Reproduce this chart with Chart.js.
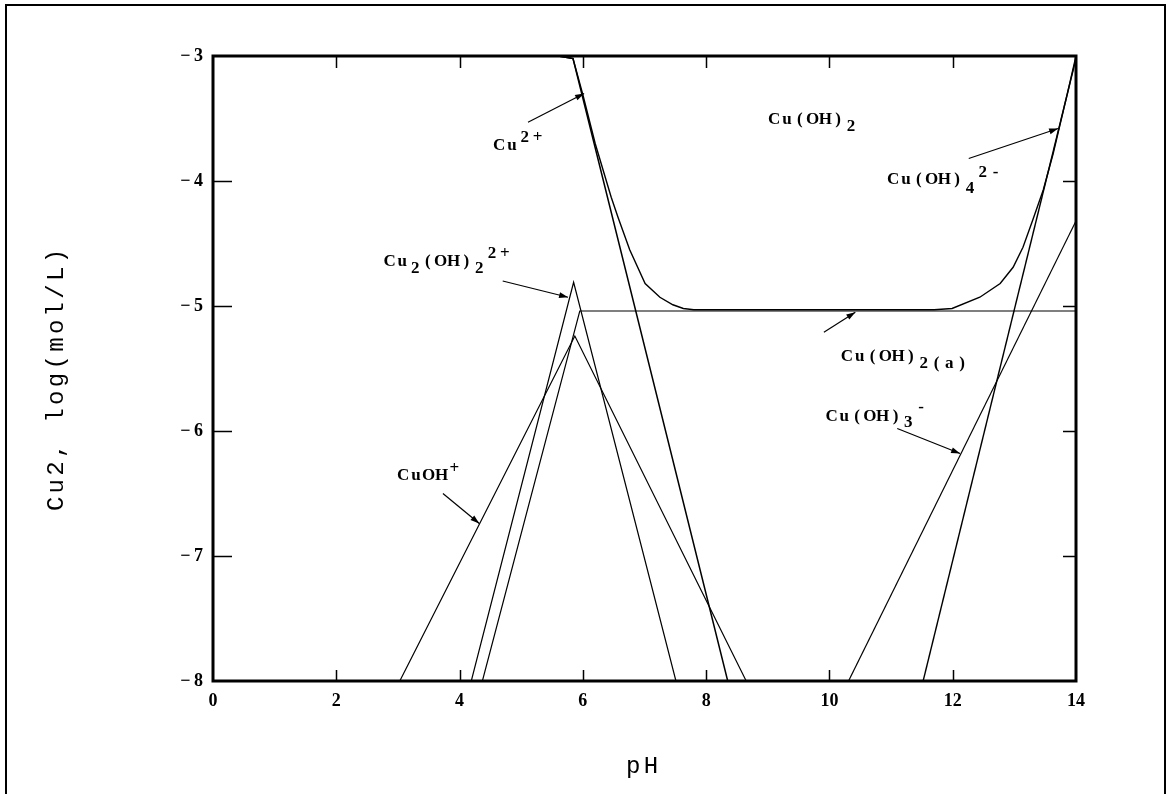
<!DOCTYPE html>
<html>
<head>
<meta charset="utf-8">
<script src="https://cdn.jsdelivr.net/npm/chart.js@4.4.1/dist/chart.umd.min.js"></script>
<style>
  html, body { margin: 0; padding: 0; background: #fff; }
</style>
</head>
<body>
<canvas id="chart" width="1172" height="794"></canvas>
<script>
// log C vs pH for copper species, points as [pH, log(mol/L)]
const cuTotal = [[0,-3],[5.6,-3],[5.84,-3.02],[6.0,-3.31],[6.2,-3.7],[6.46,-4.13],[6.57,-4.29],[6.76,-4.55],
  [7.01,-4.82],[7.25,-4.93],[7.46,-4.99],[7.63,-5.02],[7.8,-5.03],[11.7,-5.03],[11.99,-5.02],[12.44,-4.93],
  [12.77,-4.82],[12.98,-4.69],[13.14,-4.53],[13.3,-4.31],[13.47,-4.07],[13.63,-3.78],[13.74,-3.55],[13.87,-3.28],[14,-3.0]];
const cu2 = [[0,-3],[5.6,-3],[5.84,-3.02],[8.35,-8]];
const cuOH = [[3.03,-8],[5.87,-5.24],[8.65,-8]];
const cu2OH2 = [[4.19,-8],[5.85,-4.81],[7.51,-8]];
const cuOH2aq = [[4.37,-8],[5.95,-5.04],[14,-5.04]];
const cuOH3 = [[10.31,-8],[14,-4.32]];
const cuOH4 = [[11.52,-8],[14,-3.02]];

const xTicks = [0, 2, 4, 6, 8, 10, 12, 14];
const yTicks = [-8, -7, -6, -5, -4, -3];

// species labels: anchor and arrow in data units
const notes = [
  { at: [4.54, -3.75], parts: [['Cu', 0], ['2+', -8]], arrow: [[5.11, -3.53], [6.02, -3.30]] },
  { at: [2.76, -4.68], parts: [['Cu', 0], ['2', 7], ['(OH)', 0], ['2', 7], ['2+', -8]], arrow: [[4.70, -4.80], [5.76, -4.93]] },
  { at: [9.0, -3.54], parts: [['Cu(OH)', 0], ['2', 7]] },
  { at: [10.93, -4.02], parts: [['Cu(OH)', 0], ['4', 9], ['2-', -7]], arrow: [[12.26, -3.82], [13.71, -3.58]] },
  { at: [10.18, -5.44], parts: [['Cu(OH)', 0], ['2(a)', 7]], arrow: [[9.91, -5.21], [10.42, -5.05]] },
  { at: [2.98, -6.39], parts: [['CuOH', 0], ['+', -7]], arrow: [[3.73, -6.50], [4.32, -6.74]] },
  { at: [9.93, -5.92], parts: [['Cu(OH)', 0], ['3', 6], ['-', -9]], arrow: [[11.10, -5.98], [12.12, -6.18]] }
];

const toXY = pts => pts.map(([x, y]) => ({ x, y }));
const line = (data, width) => ({
  data: toXY(data), showLine: true, borderColor: '#000', borderWidth: width,
  pointRadius: 0, tension: 0, fill: false
});

function spaced(ctx, text, x, y, pitch) {
  ctx.textAlign = 'center';
  for (let i = 0; i < text.length; i++) ctx.fillText(text[i], x + i * pitch + pitch / 2, y);
  return x + text.length * pitch;
}

const decor = {
  id: 'decor',
  afterDatasetsDraw(chart) {
    const { ctx, chartArea: a, scales: { x, y } } = chart;
    ctx.save();
    ctx.strokeStyle = '#000';
    ctx.fillStyle = '#000';

    // plot frame
    ctx.lineWidth = 3;
    ctx.strokeRect(a.left, a.top, a.right - a.left, a.bottom - a.top);

    // inward tick marks
    ctx.lineWidth = 1.5;
    ctx.beginPath();
    x.ticks.forEach(t => {
      if (t.value <= x.min || t.value >= x.max) return;
      const px = Math.round(x.getPixelForValue(t.value)) + 0.5;
      ctx.moveTo(px, a.top); ctx.lineTo(px, a.top + 12);
      ctx.moveTo(px, a.bottom); ctx.lineTo(px, a.bottom - 11);
    });
    y.ticks.forEach(t => {
      if (t.value <= y.min || t.value >= y.max) return;
      const py = Math.round(y.getPixelForValue(t.value)) + 0.5;
      ctx.moveTo(a.left, py); ctx.lineTo(a.left + 19, py);
      ctx.moveTo(a.right, py); ctx.lineTo(a.right - 13, py);
    });
    ctx.stroke();

    // species labels and arrows
    ctx.font = 'bold 17px "Liberation Serif"';
    ctx.textBaseline = 'alphabetic';
    notes.forEach(n => {
      let cx = x.getPixelForValue(n.at[0]);
      const cy = y.getPixelForValue(n.at[1]);
      n.parts.forEach(([txt, dy]) => { cx = spaced(ctx, txt, cx, cy + dy, 12.8); });
      if (n.arrow) {
        const x1 = x.getPixelForValue(n.arrow[0][0]), y1 = y.getPixelForValue(n.arrow[0][1]);
        const x2 = x.getPixelForValue(n.arrow[1][0]), y2 = y.getPixelForValue(n.arrow[1][1]);
        const ang = Math.atan2(y2 - y1, x2 - x1);
        ctx.lineWidth = 1.2;
        ctx.beginPath(); ctx.moveTo(x1, y1); ctx.lineTo(x2, y2); ctx.stroke();
        ctx.beginPath();
        ctx.moveTo(x2, y2);
        ctx.lineTo(x2 - 9 * Math.cos(ang) + 3 * Math.sin(ang), y2 - 9 * Math.sin(ang) - 3 * Math.cos(ang));
        ctx.lineTo(x2 - 9 * Math.cos(ang) - 3 * Math.sin(ang), y2 - 9 * Math.sin(ang) + 3 * Math.cos(ang));
        ctx.closePath(); ctx.fill();
      }
    });

    // axis titles
    ctx.font = '24px "Liberation Mono"';
    const yTitle = 'Cu2, log(mol/L)';
    ctx.save();
    ctx.translate(63, 380);
    ctx.rotate(-Math.PI / 2);
    spaced(ctx, yTitle, -yTitle.length * 17.7 / 2, 0, 17.7);
    ctx.restore();
    spaced(ctx, 'pH', 642 - 17.7, 773, 17.7);

    // outer box
    ctx.lineWidth = 2;
    ctx.strokeRect(6, 5, 1159, 820);
    ctx.restore();
  }
};

new Chart(document.getElementById('chart'), {
  type: 'scatter',
  data: {
    datasets: [
      line(cuTotal, 1.4),
      line(cu2, 1.5),
      line(cuOH, 1.2),
      line(cu2OH2, 1.2),
      line(cuOH2aq, 1.2),
      line(cuOH3, 1.2),
      line(cuOH4, 1.4)
    ]
  },
  options: {
    responsive: false,
    animation: false,
    devicePixelRatio: 1,
    layout: { padding: { left: 0, top: 56, right: 96, bottom: 0 } },
    plugins: { legend: { display: false }, tooltip: { enabled: false } },
    scales: {
      x: {
        type: 'linear', min: 0, max: 14,
        afterBuildTicks: s => { s.ticks = xTicks.map(v => ({ value: v })); },
        afterFit: s => { s.height = 113; },
        grid: { display: false, drawTicks: false },
        border: { display: false },
        ticks: {
          autoSkip: false, maxRotation: 0, padding: 10, color: '#000',
          font: { family: 'Liberation Serif', size: 18, weight: 'bold' }
        }
      },
      y: {
        type: 'linear', min: -8, max: -3,
        afterBuildTicks: s => { s.ticks = yTicks.map(v => ({ value: v })); },
        afterFit: s => { s.width = 213; },
        grid: { display: false, drawTicks: false },
        border: { display: false },
        ticks: {
          autoSkip: false, padding: 10, color: '#000',
          font: { family: 'Liberation Serif', size: 18, weight: 'bold' },
          callback: v => '\u2212\u2009' + Math.abs(v)
        }
      }
    }
  },
  plugins: [decor]
});
</script>
</body>
</html>
